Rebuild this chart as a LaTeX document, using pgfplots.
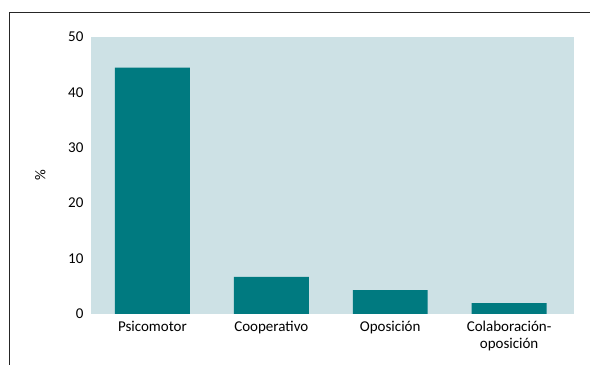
\documentclass[border=0pt]{standalone}
\usepackage{pgfplots}
\pgfplotsset{compat=1.18}
\usepackage{fontspec}
\setmainfont{Carlito}
\definecolor{bgblue}{RGB}{205,225,229}
\definecolor{teal}{RGB}{0,122,128}
\begin{document}
\begin{tikzpicture}
\path (0pt,0pt) rectangle (590pt,365pt);
\draw[line width=0.9pt,black!85] (9pt,0pt) -- (9pt,353pt) -- (590pt,353pt);
\begin{axis}[
  at={(91pt,51pt)}, anchor=south west,
  scale only axis, width=483pt, height=277pt,
  xmin=-0.517, xmax=3.542, ymin=0, ymax=50,
  ytick={0,10,20,30,40,50},
  xtick={0,1,2,3},
  xticklabels={Psicomotor,Cooperativo,Oposición,{Colaboración-\\oposición}},
  xticklabel style={align=center, font=\fontsize{15}{16.5}\selectfont, yshift=-4pt},
  yticklabel style={font=\fontsize{15}{13.5}\selectfont, xshift=-4pt},
  /pgf/number format/assume math mode=true,
  axis line style={draw=none},
  major tick length=0pt,
  axis background/.style={fill=bgblue},
  ylabel={\%},
  ylabel style={at={(axis description cs:-0.105,0.5)}, anchor=center, font=\fontsize{15}{13.5}\selectfont},
  ybar, bar width=0.63,
]
\addplot[fill=teal, draw=none] coordinates {(0,44.45) (1,6.68) (2,4.28) (3,1.93)};
\end{axis}
\end{tikzpicture}
\end{document}
